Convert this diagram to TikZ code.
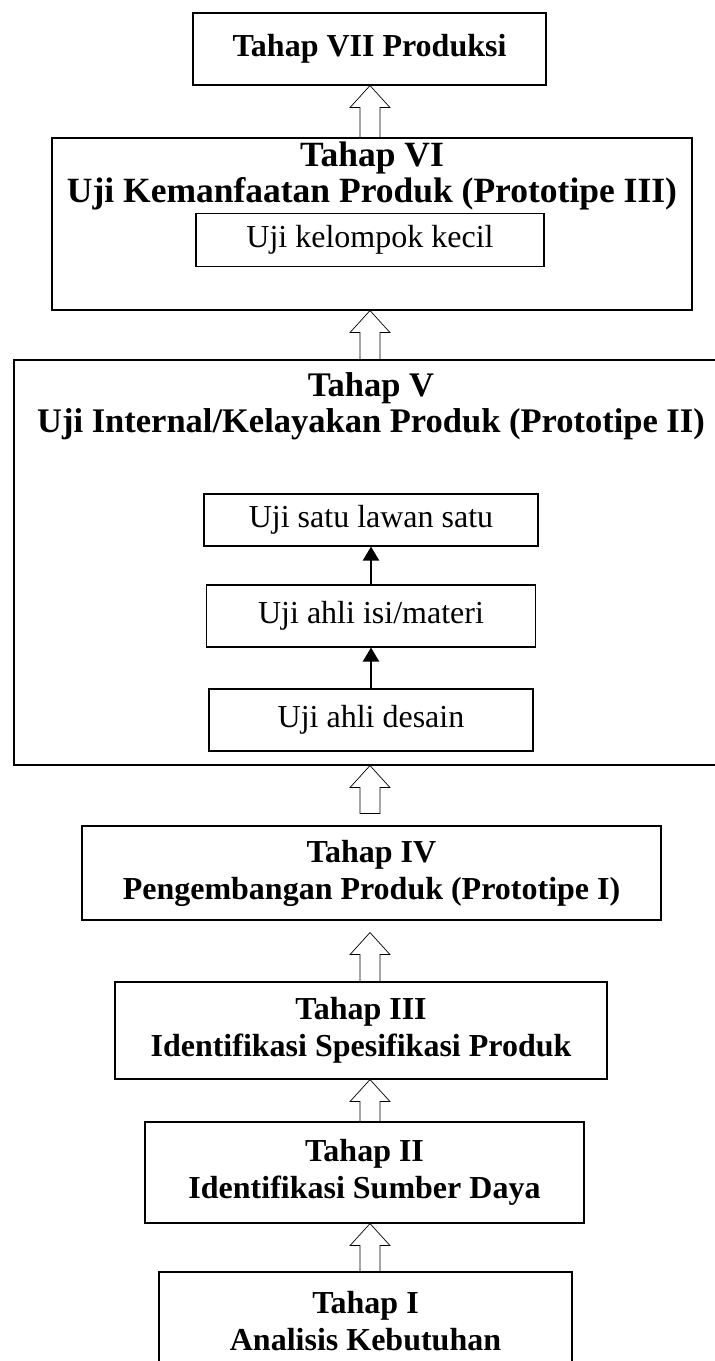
\documentclass[tikz,border=0pt]{standalone}
\usepackage{fontspec}
\setmainfont{Liberation Serif}
\usepackage{tikz}
\usetikzlibrary{calc, arrows.meta}

\newcommand{\blockup}[2]{%
  \draw[hollowarrow] let \p1=(#1), \p2=(#2) in
    (\x1-10pt,\y1) -- (\x1-10pt,\y2-22pt) -- (\x1-20pt,\y2-22pt) -- (\x1,\y2)
    -- (\x1+20pt,\y2-22pt) -- (\x1+10pt,\y2-22pt) -- (\x1+10pt,\y1) -- cycle;}

\begin{document}
\begin{tikzpicture}[x=1pt, y=-1pt,
    stagebox/.style={draw, line width=1.1pt, rectangle, align=center, inner sep=0pt,
      font=\fontsize{32}{37}\selectfont\bfseries},
    titletext/.style={align=center, inner sep=0pt, font=\fontsize{34.5}{36}\selectfont\bfseries},
    subbox/.style={draw, line width=1.1pt, rectangle, inner sep=0pt,
      font=\fontsize{32}{37}\selectfont},
    hollowarrow/.style={draw, line width=0.7pt, fill=white},
    thinarrow/.style={line width=2.3pt, -{Triangle[length=14pt, width=16pt]}}]
    \clip (0,0) rectangle (715,1361);
    \useasboundingbox (0,0) rectangle (715,1361);
    \fill[white] (0,0) rectangle (715,1361);
    \coordinate (axis) at (370,0);

    \node[stagebox, minimum width=353pt, minimum height=72pt] (vii) at (369.5,49) {Tahap VII Produksi};

    \node[stagebox, minimum width=640pt, minimum height=172pt] (vi) at (372,224) {};
    \node[titletext, font=\fontsize{35.5}{36}\selectfont\bfseries] (vititle) at (372,176) {Tahap VI\\Uji Kemanfaatan Produk (Prototipe III)};
    \node[subbox, minimum width=348pt, minimum height=53pt] (kecil) at (370,240) {Uji kelompok kecil};

    \node[stagebox, minimum width=714pt, minimum height=405pt] (v) at (371,562.5) {};
    \node[titletext] (vtitle) at (371,406) {Tahap V\\Uji Internal/Kelayakan Produk (Prototipe II)};
    \node[subbox, minimum width=334pt, minimum height=52pt] (satu) at (371,520) {Uji satu lawan satu};
    \node[subbox, minimum width=329pt, minimum height=62pt] (isi) at (371,616) {Uji ahli isi/materi};
    \node[subbox, minimum width=324pt, minimum height=62pt] (desain) at (371,720) {Uji ahli desain};
    \draw[thinarrow] (desain.north) -- (isi.south);
    \draw[thinarrow] (isi.north) -- (satu.south);

    \node[stagebox, minimum width=579pt, minimum height=94pt] (iv) at (371.5,873) {Tahap IV\\Pengembangan Produk (Prototipe I)};
    \node[stagebox, minimum width=492pt, minimum height=97pt] (iii) at (361,1030.5) {Tahap III\\Identifikasi Spesifikasi Produk};
    \node[stagebox, minimum width=439pt, minimum height=101pt] (ii) at (364.5,1172.5) {Tahap II\\Identifikasi Sumber Daya};
    \node[stagebox, minimum width=413pt, minimum height=99pt] (i) at (365.5,1321.5) {Tahap I\\Analisis Kebutuhan};

    \blockup{vi.north -| axis}{vii.south -| axis}
    \blockup{v.north -| axis}{vi.south -| axis}
    \blockup{$(iv.north -| axis)+(0,12pt)$}{v.south -| axis}
    \blockup{iii.north -| axis}{$(iv.south -| axis)+(0,-12pt)$}
    \blockup{ii.north -| axis}{iii.south -| axis}
    \blockup{i.north -| axis}{ii.south -| axis}
\end{tikzpicture}
\end{document}
